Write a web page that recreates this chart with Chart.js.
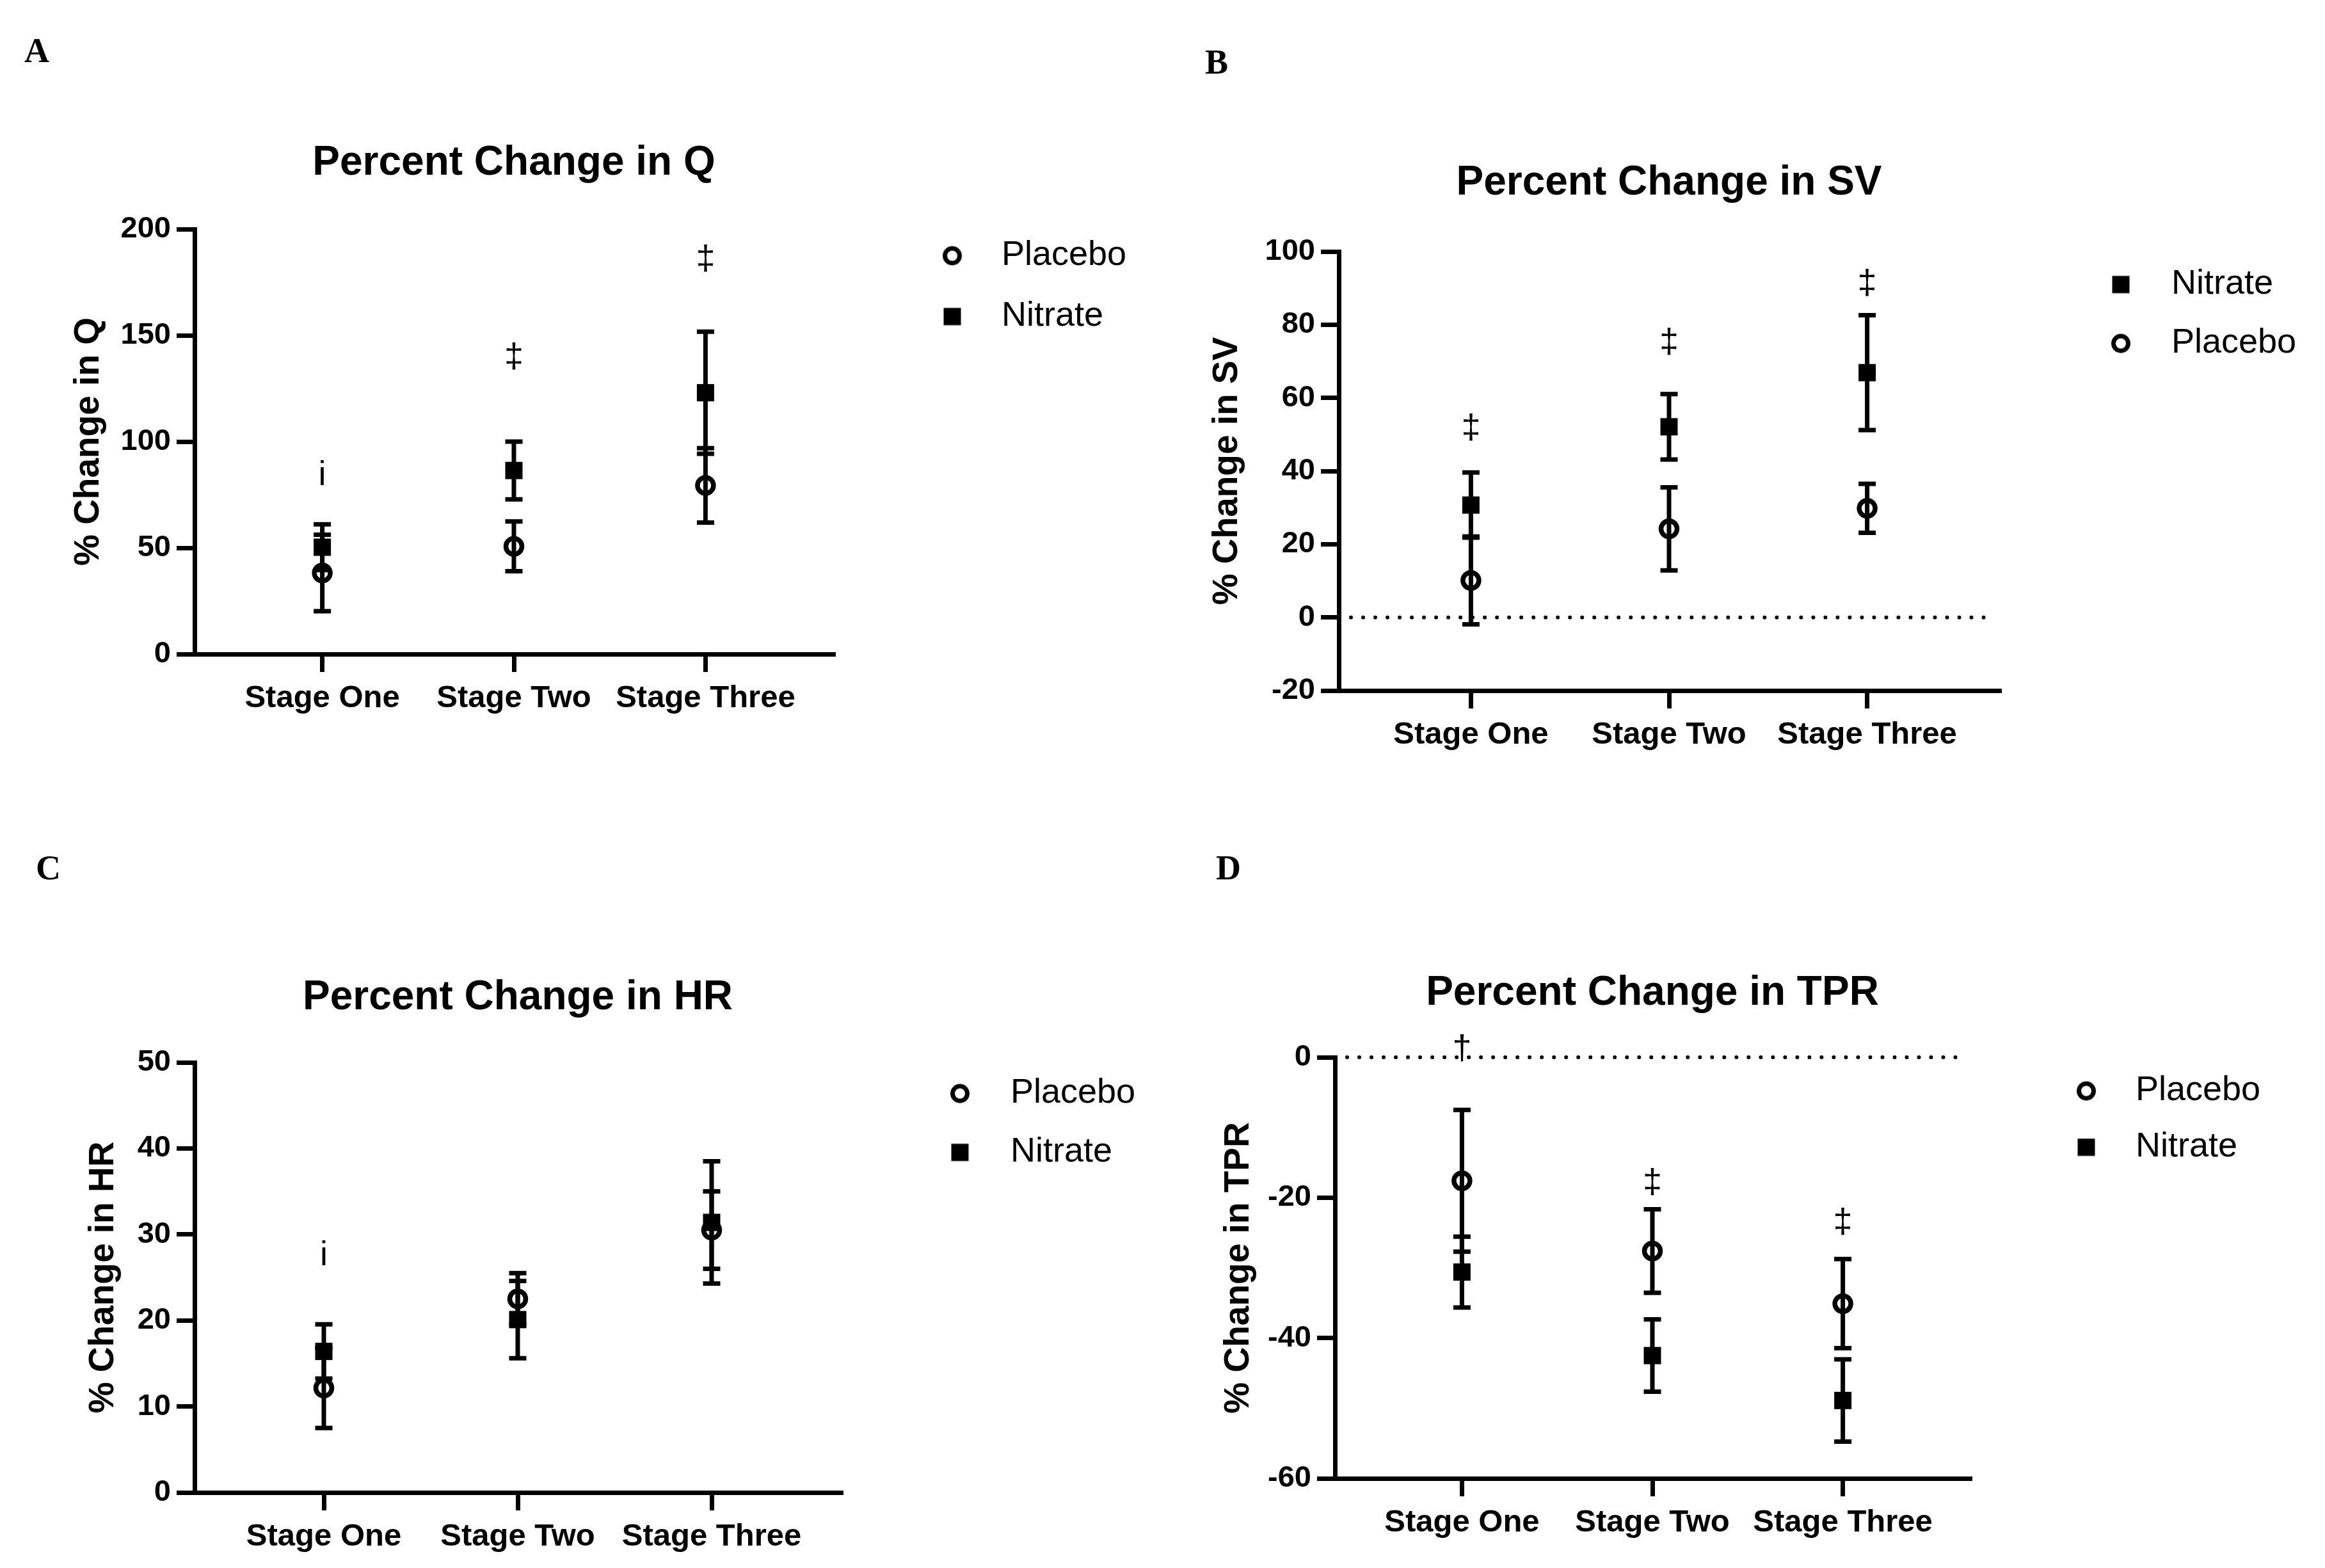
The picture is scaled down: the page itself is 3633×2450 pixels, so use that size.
<!DOCTYPE html>
<html>
<head>
<meta charset="utf-8">
<script src="https://cdn.jsdelivr.net/npm/chart.js@4.4.1/dist/chart.umd.min.js"></script>
<style>
  html, body { margin: 0; padding: 0; background: #ffffff; }
  body { width: 3633px; height: 2450px; position: relative; overflow: hidden; }
  canvas { position: absolute; }
  .letter { position: absolute; font-family: 'Liberation Serif', 'Times New Roman', serif; font-weight: bold;
            font-size: 54px; line-height: 54px; color: #000; }
</style>
</head>
<body>
<div class="letter" style="left:38px;top:52px;">A</div>
<div class="letter" style="left:1883px;top:70px;">B</div>
<div class="letter" style="left:56px;top:1329px;">C</div>
<div class="letter" style="left:1900px;top:1329px;">D</div>
<canvas id="chartQ"></canvas>
<canvas id="chartSV"></canvas>
<canvas id="chartHR"></canvas>
<canvas id="chartTPR"></canvas>
<script>
// ---------------- data ----------------
const stages = ['Stage One', 'Stage Two', 'Stage Three'];

// A: Percent change in Q
const qPlacebo    = [38.2, 50.7, 79.4];
const qPlaceboSem = [18.0, 11.7, 17.5];
const qNitrate    = [50.3, 86.4, 123.0];
const qNitrateSem = [10.8, 13.6, 28.7];
const qTicks      = [0, 50, 100, 150, 200];
const qMarks      = ['i', '‡', '‡'];
const qMarkAt     = [84, 139.5, 185.5];

// B: Percent change in SV
const svNitrate    = [30.7, 52.1, 66.9];
const svNitrateSem = [8.9, 8.95, 15.7];
const svPlacebo    = [10.1, 24.2, 29.8];
const svPlaceboSem = [12.0, 11.35, 6.7];
const svTicks      = [-20, 0, 20, 40, 60, 80, 100];
const svMarks      = ['‡', '‡', '‡'];
const svMarkAt     = [51.6, 74.9, 91.0];

// C: Percent change in HR
const hrPlacebo    = [12.15, 22.5, 30.5];
const hrPlaceboSem = [4.65, 3.0, 4.5];
const hrNitrate    = [16.4, 20.1, 31.4];
const hrNitrateSem = [3.15, 4.5, 7.1];
const hrTicks      = [0, 10, 20, 30, 40, 50];
const hrMarks      = ['i', '', ''];
const hrMarkAt     = [27.5, null, null];

// D: Percent change in TPR
const tprPlacebo    = [-17.6, -27.6, -35.1];
const tprPlaceboSem = [10.1, 5.95, 6.35];
const tprNitrate    = [-30.6, -42.5, -48.9];
const tprNitrateSem = [5.05, 5.15, 5.85];
const tprTicks      = [-60, -40, -20, 0];
const tprMarks      = ['†', '‡', '‡'];
const tprMarkAt     = [1.1, -18.0, -23.6];

// ---------------- layout (page pixels) ----------------
const layoutQ   = { canvas: [0, 0, 1816, 1225],     area: [304, 358, 1302, 1022],   titleMid: 252,  yLabelX: 139,
                    legend: { markerX: 1488, textX: 1565, firstY: 397, step: 95 } };
const layoutSV  = { canvas: [1816, 0, 1817, 1225],  area: [2092, 393, 3124, 1079],  titleMid: 283,  yLabelX: 1918,
                    legend: { markerX: 3314, textX: 3393, firstY: 442, step: 92 } };
const layoutHR  = { canvas: [0, 1225, 1816, 1225],  area: [304, 1660, 1314, 2332],  titleMid: 1556, yLabelX: 162,
                    legend: { markerX: 1500, textX: 1579, firstY: 1706, step: 92 } };
const layoutTPR = { canvas: [1816, 1225, 1817, 1225], area: [2086, 1652, 3078, 2310], titleMid: 1549, yLabelX: 1936,
                    legend: { markerX: 3260, textX: 3337, firstY: 1702, step: 88 } };

const FONT = "'Liberation Sans', Arial, sans-serif";
Chart.defaults.font.family = FONT;
Chart.defaults.color = '#000';

const TITLE_SIZE = 64, YTITLE_SIZE = 55, YTICK_SIZE = 47, XTICK_SIZE = 49, LEG_SIZE = 54, MARK_SIZE = 54;
const AXIS_W = 7, TICK_LEN = 28;

// keeps the legend box at a fixed width so the plot area ends where it should
const legendWidthPlugin = {
  id: 'legendWidth',
  beforeLayout(chart, args, opts) {
    const lg = chart.legend;
    if (!lg || lg._fixedWidthPatched) return;
    const origFit = lg.fit.bind(lg);
    lg.fit = function () { origFit(); this.width = opts.width; };
    lg._fixedWidthPatched = true;
  }
};

// error bars
const errorBarPlugin = {
  id: 'errorBars',
  beforeDatasetsDraw(chart) {
    const { ctx } = chart;
    const xs = chart.scales.x, ys = chart.scales.y;
    ctx.save();
    ctx.strokeStyle = '#000';
    ctx.lineWidth = 7;
    ctx.lineCap = 'butt';
    chart.data.datasets.forEach(ds => {
      ds.data.forEach((pt, i) => {
        const e = ds.errors[i];
        const px = xs.getPixelForValue(pt.x);
        const yt = ys.getPixelForValue(pt.y + e);
        const yb = ys.getPixelForValue(pt.y - e);
        ctx.beginPath();
        ctx.moveTo(px, yt); ctx.lineTo(px, yb);
        ctx.moveTo(px - 13.5, yt); ctx.lineTo(px + 13.5, yt);
        ctx.moveTo(px - 13.5, yb); ctx.lineTo(px + 13.5, yb);
        ctx.stroke();
      });
    });
    ctx.restore();
  }
};

// dotted zero line
const zeroLinePlugin = {
  id: 'zeroLine',
  beforeDatasetsDraw(chart, args, opts) {
    if (!opts || !opts.show) return;
    const { ctx, chartArea } = chart;
    const y0 = chart.scales.y.getPixelForValue(0);
    ctx.save();
    ctx.strokeStyle = '#000';
    ctx.lineWidth = 6;
    ctx.lineCap = 'round';
    ctx.setLineDash([0.01, 19]);
    ctx.beginPath();
    ctx.moveTo(chartArea.left + 19, y0);
    ctx.lineTo(chartArea.right - 8, y0);
    ctx.stroke();
    ctx.restore();
  }
};

// significance symbols
const sigMarkPlugin = {
  id: 'sigMarks',
  afterDatasetsDraw(chart, args, opts) {
    if (!opts || !opts.marks) return;
    const { ctx } = chart;
    ctx.save();
    ctx.fillStyle = '#000';
    ctx.font = MARK_SIZE + 'px ' + FONT;
    ctx.textAlign = 'center';
    ctx.textBaseline = 'middle';
    opts.marks.forEach((m, i) => {
      if (!m || opts.at[i] === null) return;
      ctx.fillText(m, chart.scales.x.getPixelForValue(i), chart.scales.y.getPixelForValue(opts.at[i]));
    });
    ctx.restore();
  }
};

function markerCanvas(kind, d) {
  const half = Math.ceil(Math.abs(d) + 24);
  const c = document.createElement('canvas');
  c.width = half * 2; c.height = 48;
  const g = c.getContext('2d');
  const mx = half + d, my = 24;
  g.fillStyle = '#000'; g.strokeStyle = '#000';
  if (kind === 'circle') {
    g.lineWidth = 7;
    g.beginPath(); g.arc(mx, my, 11.5, 0, Math.PI * 2); g.stroke();
  } else {
    g.fillRect(mx - 13.5, my - 13.5, 27, 27);
  }
  return c;
}

function buildChart(id, L, spec) {
  const [cx, cy, cw, ch] = L.canvas;
  const [aL, aT, aR, aB] = L.area;
  const cv = document.getElementById(id);
  cv.width = cw; cv.height = ch;
  cv.style.left = cx + 'px'; cv.style.top = cy + 'px';
  cv.style.width = cw + 'px'; cv.style.height = ch + 'px';

  const P = 20;
  const TLH = TITLE_SIZE * 1.2;
  const tpTop = (L.titleMid + 3 - cy) - P - TLH / 2;
  const tpBot = (aT - cy) - P - tpTop - TLH;
  const lp = L.legend.step - LEG_SIZE;
  const item0Top = L.legend.firstY + 2.6 - LEG_SIZE / 2 - cy;
  const legTitleH = item0Top - P - lp;
  const x0 = aR + lp;
  const boxW = L.legend.textX - x0 - LEG_SIZE / 2;
  const dOff = L.legend.markerX - x0 - boxW / 2;
  const padRight = 4;
  const W_LEG = cw - (aR - cx) - padRight;
  const yW = aL - cx;
  const xH = (cy + ch) - aB;
  const yTitlePad = (L.yLabelX - cx) - YTITLE_SIZE * 1.2 / 2;

  const markers = { circle: markerCanvas('circle', dOff), rect: markerCanvas('rect', dOff) };

  const datasets = spec.series.map(s => ({
    label: s.label,
    kind: s.kind,
    data: s.values.map((v, i) => ({ x: i, y: v })),
    errors: s.sem,
    showLine: false,
    pointStyle: s.kind === 'circle' ? 'circle' : 'rect',
    pointRadius: s.kind === 'circle' ? 12.5 : 19.1,
    pointHoverRadius: s.kind === 'circle' ? 12.5 : 19.1,
    pointBackgroundColor: s.kind === 'circle' ? 'rgba(0,0,0,0)' : '#000',
    pointHoverBackgroundColor: s.kind === 'circle' ? 'rgba(0,0,0,0)' : '#000',
    pointBorderColor: '#000',
    pointHoverBorderColor: '#000',
    pointBorderWidth: s.kind === 'circle' ? 7.5 : 0,
    pointHoverBorderWidth: s.kind === 'circle' ? 7.5 : 0
  }));

  const ticks = spec.yTicks;
  return new Chart(cv, {
    type: 'scatter',
    data: { datasets },
    plugins: [legendWidthPlugin, errorBarPlugin, zeroLinePlugin, sigMarkPlugin],
    options: {
      responsive: false,
      animation: false,
      devicePixelRatio: 1,
      events: [],
      layout: { padding: { left: 0, top: P, right: padRight, bottom: 0 }, autoPadding: false },
      scales: {
        x: {
          type: 'linear',
          min: -2 / 3, max: 8 / 3,
          afterBuildTicks: s => { s.ticks = stages.map((_, i) => ({ value: i })); },
          afterFit: s => { s.height = xH; },
          ticks: {
            callback: (v, i) => stages[i],
            font: { family: FONT, size: XTICK_SIZE, weight: 'bold' },
            color: '#000', padding: 12, maxRotation: 0, minRotation: 0, autoSkip: false
          },
          grid: { display: true, drawOnChartArea: false, drawTicks: true, tickLength: TICK_LEN,
                  tickWidth: AXIS_W, tickColor: '#000', color: '#000', lineWidth: AXIS_W },
          border: { display: true, width: AXIS_W, color: '#000' }
        },
        y: {
          type: 'linear',
          min: ticks[0], max: ticks[ticks.length - 1],
          afterBuildTicks: s => { s.ticks = ticks.map(v => ({ value: v })); },
          afterFit: s => { s.width = yW; },
          ticks: {
            callback: v => String(v),
            font: { family: FONT, size: YTICK_SIZE, weight: 'bold' },
            color: '#000', padding: 9
          },
          grid: { display: true, drawOnChartArea: false, drawTicks: true, tickLength: TICK_LEN,
                  tickWidth: AXIS_W, tickColor: '#000', color: '#000', lineWidth: AXIS_W },
          border: { display: true, width: AXIS_W, color: '#000' },
          title: {
            display: true, text: spec.yTitle, color: '#000',
            font: { family: FONT, size: YTITLE_SIZE, weight: 'bold' },
            padding: { top: yTitlePad, bottom: 0 }
          }
        }
      },
      plugins: {
        tooltip: { enabled: false },
        legendWidth: { width: W_LEG },
        title: {
          display: true, text: spec.title, color: '#000', fullSize: false, align: 'center',
          font: { family: FONT, size: TITLE_SIZE, weight: 'bold' },
          padding: { top: tpTop, bottom: tpBot }
        },
        legend: {
          display: true, position: 'right', align: 'start', fullSize: true,
          title: { display: true, text: '', font: { size: 1, lineHeight: 1 }, padding: { top: legTitleH - 1, bottom: 0 } },
          labels: {
            usePointStyle: true,
            pointStyleWidth: boxW,
            padding: lp,
            color: '#000',
            font: { family: FONT, size: LEG_SIZE, weight: 'normal' },
            generateLabels: chart => spec.legendOrder.map(idx => {
              const ds = chart.data.datasets[idx];
              return { text: ds.label, pointStyle: markers[ds.kind], fillStyle: '#000', strokeStyle: '#000',
                       lineWidth: 0, hidden: false, datasetIndex: idx, fontColor: '#000' };
            })
          }
        },
        zeroLine: { show: !!spec.zeroLine },
        sigMarks: { marks: spec.marks, at: spec.markAt }
      }
    }
  });
}

buildChart('chartQ', layoutQ, {
  title: 'Percent Change in Q', yTitle: '% Change in Q', yTicks: qTicks,
  series: [
    { label: 'Placebo', kind: 'circle', values: qPlacebo, sem: qPlaceboSem },
    { label: 'Nitrate', kind: 'rect', values: qNitrate, sem: qNitrateSem }
  ],
  legendOrder: [0, 1], marks: qMarks, markAt: qMarkAt, zeroLine: false
});

buildChart('chartSV', layoutSV, {
  title: 'Percent Change in SV', yTitle: '% Change in SV', yTicks: svTicks,
  series: [
    { label: 'Placebo', kind: 'circle', values: svPlacebo, sem: svPlaceboSem },
    { label: 'Nitrate', kind: 'rect', values: svNitrate, sem: svNitrateSem }
  ],
  legendOrder: [1, 0], marks: svMarks, markAt: svMarkAt, zeroLine: true
});

buildChart('chartHR', layoutHR, {
  title: 'Percent Change in HR', yTitle: '% Change in HR', yTicks: hrTicks,
  series: [
    { label: 'Placebo', kind: 'circle', values: hrPlacebo, sem: hrPlaceboSem },
    { label: 'Nitrate', kind: 'rect', values: hrNitrate, sem: hrNitrateSem }
  ],
  legendOrder: [0, 1], marks: hrMarks, markAt: hrMarkAt, zeroLine: false
});

buildChart('chartTPR', layoutTPR, {
  title: 'Percent Change in TPR', yTitle: '% Change in TPR', yTicks: tprTicks,
  series: [
    { label: 'Placebo', kind: 'circle', values: tprPlacebo, sem: tprPlaceboSem },
    { label: 'Nitrate', kind: 'rect', values: tprNitrate, sem: tprNitrateSem }
  ],
  legendOrder: [0, 1], marks: tprMarks, markAt: tprMarkAt, zeroLine: true
});
</script>
</body>
</html>
